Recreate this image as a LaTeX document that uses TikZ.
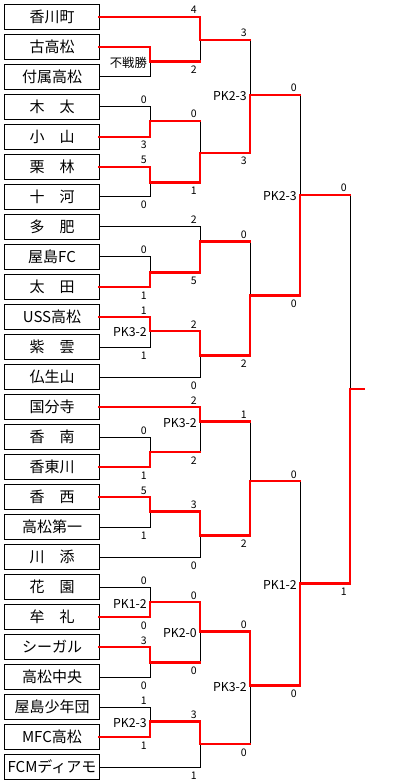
\documentclass[tikz,border=0pt]{standalone}
\usepackage{fontspec}
\setmainfont{Noto Sans CJK JP}
\usetikzlibrary{positioning}

\begin{document}
\begin{tikzpicture}[
x=1pt, y=-1pt,
node distance=5pt,
team/.style={rectangle, draw=black, line width=1pt, outer sep=0pt, inner xsep=1pt, inner ysep=2pt, minimum width=95pt, minimum height=25pt, font=\fontsize{15}{18}\selectfont},
win/.style={draw=red, line width=2.6pt, line cap=rect},
lose/.style={draw=black, line width=1pt},
stop/.style={anchor=base east, inner sep=0pt, xshift=-3pt, yshift=3pt, font=\fontsize{10.5}{12}\selectfont},
sbot/.style={anchor=base east, inner sep=0pt, xshift=-3pt, yshift=-12pt, font=\fontsize{10.5}{12}\selectfont},
pk/.style={anchor=east, inner sep=0pt, xshift=-3pt, yshift=-1.5pt, font=\fontsize{12.3}{14}\selectfont}
]
\useasboundingbox (0,0) rectangle (413,783);

% teams
\node[team] (t0) at (52,17) {香川町};
\node[team, below=of t0] (t1) {古高松};
\node[team, below=of t1] (t2) {付属高松};
\node[team, below=of t2] (t3) {木　太};
\node[team, below=of t3] (t4) {小　山};
\node[team, below=of t4] (t5) {栗　林};
\node[team, below=of t5] (t6) {十　河};
\node[team, below=of t6] (t7) {多　肥};
\node[team, below=of t7] (t8) {屋島FC};
\node[team, below=of t8] (t9) {太　田};
\node[team, below=of t9] (t10) {USS高松};
\node[team, below=of t10] (t11) {紫　雲};
\node[team, below=of t11] (t12) {仏生山};
\node[team, below=of t12] (t13) {国分寺};
\node[team, below=of t13] (t14) {香　南};
\node[team, below=of t14] (t15) {香東川};
\node[team, below=of t15] (t16) {香　西};
\node[team, below=of t16] (t17) {高松第一};
\node[team, below=of t17] (t18) {川　添};
\node[team, below=of t18] (t19) {花　園};
\node[team, below=of t19] (t20) {牟　礼};
\node[team, below=of t20] (t21) {シーガル};
\node[team, below=of t21] (t22) {高松中央};
\node[team, below=of t22] (t23) {屋島少年団};
\node[team, below=of t23] (t24) {MFC高松};
\node[team, below=of t24] (t25) {FCMディアモ};

% match points
\coordinate (m1a) at (150,61.5);
\coordinate (m1b) at (150,121);
\coordinate (m1c) at (150,182.5);
\coordinate (m1d) at (150,272.5);
\coordinate (m1e) at (150,331);
\coordinate (m1f) at (150,452);
\coordinate (m1g) at (150,511.5);
\coordinate (m1h) at (150,602);
\coordinate (m1i) at (150,662.5);
\coordinate (m1j) at (150,721.5);
\coordinate (m2a) at (200,40);
\coordinate (m2b) at (200,153);
\coordinate (m2c) at (200,241.5);
\coordinate (m2d) at (200,355.5);
\coordinate (m2e) at (200,421.5);
\coordinate (m2f) at (200,535.5);
\coordinate (m2g) at (200,631.5);
\coordinate (m2h) at (200,744);
\coordinate (m3a) at (250,95);
\coordinate (m3b) at (250,295.5);
\coordinate (m3c) at (250,481);
\coordinate (m3d) at (250,685.5);
\coordinate (m4a) at (300,195);
\coordinate (m4b) at (300,583.5);
\coordinate (m5) at (350,389);
\coordinate (champ) at (364,389);

% losing sides
\draw[lose] (t2.east) -| (m1a);
\draw[lose] (t3.east) -| (m1b);
\draw[lose] (t6.east) -| (m1c);
\draw[lose] (t8.east) -| (m1d);
\draw[lose] (t11.east) -| (m1e);
\draw[lose] (t14.east) -| (m1f);
\draw[lose] (t17.east) -| (m1g);
\draw[lose] (t19.east) -| (m1h);
\draw[lose] (t22.east) -| (m1i);
\draw[lose] (t23.east) -| (m1j);
\draw[lose] (m1a -| m2a) -- (m2a);
\draw[lose] (m1b -| m2b) -- (m2b);
\draw[lose] (t7.east) -| (m2c);
\draw[lose] (t12.east) -| (m2d);
\draw[lose] (m1f -| m2e) -- (m2e);
\draw[lose] (t18.east) -| (m2f);
\draw[lose] (m1i -| m2g) -- (m2g);
\draw[lose] (t25.east) -| (m2h);
\draw[lose] (m2a -| m3a) -- (m3a);
\draw[lose] (m2c -| m3b) -- (m3b);
\draw[lose] (m2e -| m3c) -- (m3c);
\draw[lose] (m2h -| m3d) -- (m3d);
\draw[lose] (m3a -| m4a) -- (m4a);
\draw[lose] (m3c -| m4b) -- (m4b);
\draw[lose] (m4a -| m5) -- (m5);

% winning sides
\draw[win] (t1.east) -| (m1a);
\draw[win] (t4.east) -| (m1b);
\draw[win] (t5.east) -| (m1c);
\draw[win] (t9.east) -| (m1d);
\draw[win] (t10.east) -| (m1e);
\draw[win] (t15.east) -| (m1f);
\draw[win] (t16.east) -| (m1g);
\draw[win] (t20.east) -| (m1h);
\draw[win] (t21.east) -| (m1i);
\draw[win] (t24.east) -| (m1j);
\draw[win] (t0.east) -| (m2a);
\draw[win] (m1a) -- (m1a -| m2a);
\draw[win] (m1b) -- (m1b -| m2b);
\draw[win] (m1c) -| (m2b);
\draw[win] (m1d) -| (m2c);
\draw[win] (m1e) -| (m2d);
\draw[win] (t13.east) -| (m2e);
\draw[win] (m1f) -- (m1f -| m2e);
\draw[win] (m1g) -| (m2f);
\draw[win] (m1h) -| (m2g);
\draw[win] (m1i) -- (m1i -| m2g);
\draw[win] (m1j) -| (m2h);
\draw[win] (m2a) -- (m2a -| m3a);
\draw[win] (m2b) -| (m3a);
\draw[win] (m2c) -- (m2c -| m3b);
\draw[win] (m2d) -| (m3b);
\draw[win] (m2e) -- (m2e -| m3c);
\draw[win] (m2f) -| (m3c);
\draw[win] (m2g) -| (m3d);
\draw[win] (m2h) -- (m2h -| m3d);
\draw[win] (m3a) -- (m3a -| m4a);
\draw[win] (m3b) -| (m4a);
\draw[win] (m3c) -- (m3c -| m4b);
\draw[win] (m3d) -| (m4b);
\draw[win] (m4a) -- (m4a -| m5);
\draw[win] (m4b) -| (m5);
\draw[win] (m5) -- (champ);

% scores
\node[stop] (s1b1) at (t3 -| m1b) {0};
\node[sbot] (s1b2) at (t4 -| m1b) {3};
\node[stop] (s1c1) at (t5 -| m1c) {5};
\node[sbot] (s1c2) at (t6 -| m1c) {0};
\node[stop] (s1d1) at (t8 -| m1d) {0};
\node[sbot] (s1d2) at (t9 -| m1d) {1};
\node[stop] (s1e1) at (t10 -| m1e) {1};
\node[sbot] (s1e2) at (t11 -| m1e) {1};
\node[stop] (s1f1) at (t14 -| m1f) {0};
\node[sbot] (s1f2) at (t15 -| m1f) {1};
\node[stop] (s1g1) at (t16 -| m1g) {5};
\node[sbot] (s1g2) at (t17 -| m1g) {1};
\node[stop] (s1h1) at (t19 -| m1h) {0};
\node[sbot] (s1h2) at (t20 -| m1h) {0};
\node[stop] (s1i1) at (t21 -| m1i) {3};
\node[sbot] (s1i2) at (t22 -| m1i) {0};
\node[stop] (s1j1) at (t23 -| m1j) {1};
\node[sbot] (s1j2) at (t24 -| m1j) {1};
\node[stop] (s2a1) at (t0 -| m2a) {4};
\node[sbot] (s2a2) at (m1a -| m2a) {2};
\node[stop] (s2b1) at (m1b -| m2b) {0};
\node[sbot] (s2b2) at (m1c -| m2b) {1};
\node[stop] (s2c1) at (t7 -| m2c) {2};
\node[sbot] (s2c2) at (m1d -| m2c) {5};
\node[stop] (s2d1) at (m1e -| m2d) {2};
\node[sbot] (s2d2) at (t12 -| m2d) {0};
\node[stop] (s2e1) at (t13 -| m2e) {2};
\node[sbot] (s2e2) at (m1f -| m2e) {2};
\node[stop] (s2f1) at (m1g -| m2f) {3};
\node[sbot] (s2f2) at (t18 -| m2f) {0};
\node[stop] (s2g1) at (m1h -| m2g) {0};
\node[sbot] (s2g2) at (m1i -| m2g) {0};
\node[stop] (s2h1) at (m1j -| m2h) {3};
\node[sbot] (s2h2) at (t25 -| m2h) {1};
\node[stop] (s3a1) at (m2a -| m3a) {3};
\node[sbot] (s3a2) at (m2b -| m3a) {3};
\node[stop] (s3b1) at (m2c -| m3b) {0};
\node[sbot] (s3b2) at (m2d -| m3b) {2};
\node[stop] (s3c1) at (m2e -| m3c) {1};
\node[sbot] (s3c2) at (m2f -| m3c) {2};
\node[stop] (s3d1) at (m2g -| m3d) {0};
\node[sbot] (s3d2) at (m2h -| m3d) {0};
\node[stop] (s4a1) at (m3a -| m4a) {0};
\node[sbot] (s4a2) at (m3b -| m4a) {0};
\node[stop] (s4b1) at (m3c -| m4b) {0};
\node[sbot] (s4b2) at (m3d -| m4b) {0};
\node[stop] (s51) at (m4a -| m5) {0};
\node[sbot] (s52) at (m4b -| m5) {1};

% notes
\node[pk] (p1a) at (m1a) {不戦勝};
\node[pk] (p1e) at (m1e) {PK3-2};
\node[pk] (p1h) at (m1h) {PK1-2};
\node[pk] (p1j) at (m1j) {PK2-3};
\node[pk] (p2e) at (m2e) {PK3-2};
\node[pk] (p2g) at (m2g) {PK2-0};
\node[pk] (p3a) at (m3a) {PK2-3};
\node[pk] (p3d) at (m3d) {PK3-2};
\node[pk] (p4a) at (m4a) {PK2-3};
\node[pk] (p4b) at (m4b) {PK1-2};
\end{tikzpicture}
\end{document}
